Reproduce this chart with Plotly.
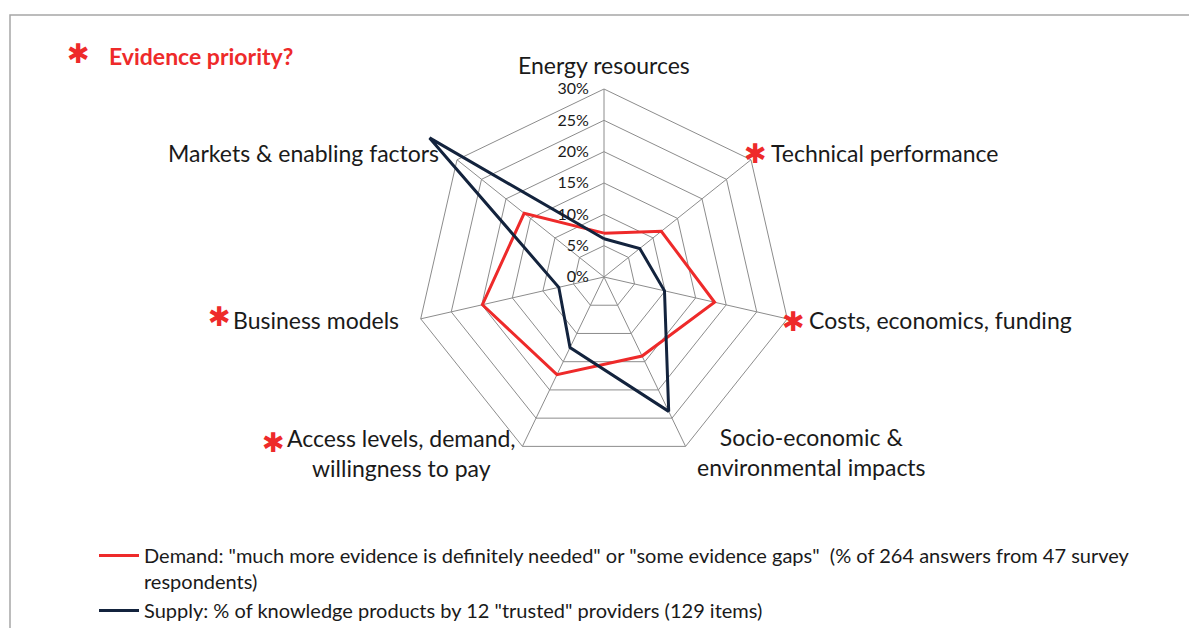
import plotly.graph_objects as go

categories = ["Energy resources", "Technical performance", "Costs, economics, funding",
              "Socio-economic & environmental impacts", "Access levels, demand, willingness to pay",
              "Business models", "Markets & enabling factors"]
demand = [7.0, 11.7, 18.1, 14.0, 17.3, 19.9, 16.3]
supply = [6.1, 7.3, 9.9, 23.8, 12.5, 7.4, 35.6]
radial_ticks = [0, 5, 10, 15, 20, 25, 30]
radial_tick_labels = ["0%", "5%", "10%", "15%", "20%", "25%", "30%"]

demand_name = 'Demand: "much more evidence is definitely needed" or "some evidence gaps"  (% of 264 answers from 47 survey<br>respondents)'
supply_name = 'Supply: % of knowledge products by 12 "trusted" providers (129 items)'

RED = "#ee2a2a"
NAVY = "#13233d"
GRID = "#8c8c8c"
TXT = "#1a1a1a"
W, H = 1189, 628
cx, cy, R30 = 604, 277, 188
RMAX = 36
R = R30 * RMAX / 30

fig = go.Figure()
# spokes from centre to the 30% ring
spoke_r, spoke_t = [], []
for c in categories:
    spoke_r += [0, radial_ticks[-1], None]
    spoke_t += [c, c, c]
fig.add_trace(go.Scatterpolar(r=spoke_r, theta=spoke_t, mode="lines", line=dict(color=GRID, width=1),
                              showlegend=False, hoverinfo="skip", connectgaps=False))
fig.add_trace(go.Scatterpolar(r=demand + demand[:1], theta=categories + categories[:1], mode="lines",
                              line=dict(color=RED, width=3), name=demand_name))
fig.add_trace(go.Scatterpolar(r=supply + supply[:1], theta=categories + categories[:1], mode="lines",
                              line=dict(color=NAVY, width=3), name=supply_name))

def px(x):
    return x / W

def py(y):
    return 1 - y / H

LF = 23
labels = [
    ("Energy resources", 604, 65, "center"),
    ("Technical performance", 769, 153, "left"),
    ("Costs, economics, funding", 807, 320, "left"),
    ("Socio-economic &<br>environmental impacts", 811, 452, "center"),
    ("Access levels, demand,<br>willingness to pay", 401, 453, "center"),
    ("Business models", 401, 320, "right"),
    ("Markets & enabling factors", 441, 153, "right"),
]
annotations = []
for text, x, y, anc in labels:
    annotations.append(dict(xref="paper", yref="paper", x=px(x), y=py(y), xanchor=anc, yanchor="middle",
                            showarrow=False, text=text, align="center",
                            font=dict(size=LF, color=TXT, family="Lato")))
stars = [(755, 153), (793, 321), (273, 442), (219, 316), (78, 53)]
for x, y in stars:
    annotations.append(dict(xref="paper", yref="paper", x=px(x), y=py(y), xanchor="center", yanchor="middle",
                            showarrow=False, text="✱", font=dict(size=27, color=RED, family="DejaVu Sans")))
annotations.append(dict(xref="paper", yref="paper", x=px(107), y=py(56), xanchor="left", yanchor="middle",
                        showarrow=False, text="<b>Evidence priority?</b>",
                        font=dict(size=23, color=RED, family="Lato")))

pad = "\u00a0" * 3
fig.update_layout(
    width=W, height=H,
    margin=dict(l=0, r=0, t=0, b=0, autoexpand=False),
    paper_bgcolor="white", plot_bgcolor="white",
    font=dict(family="Lato, 'Open Sans', sans-serif", color=TXT),
    polar=dict(
        domain=dict(x=[px(cx - R), px(cx + R)], y=[py(cy + R), py(cy - R)]),
        gridshape="linear",
        bgcolor="rgba(0,0,0,0)",
        angularaxis=dict(direction="clockwise", rotation=90, type="category",
                         categoryorder="array", categoryarray=categories,
                         showline=False, showgrid=False, showticklabels=False, ticks=""),
        radialaxis=dict(range=[0, RMAX], tickmode="array", tickvals=radial_ticks,
                        ticktext=[t + pad for t in radial_tick_labels],
                        angle=90, tickangle=90, side="counterclockwise", showline=False, ticks="",
                        gridcolor=GRID, gridwidth=1,
                        tickfont=dict(size=16, color=TXT, family="Lato")),
    ),
    legend=dict(x=px(94), y=py(536), xanchor="left", yanchor="top", valign="top",
                font=dict(size=20, color=TXT, family="Lato"), tracegroupgap=20, bgcolor="rgba(0,0,0,0)",
                itemwidth=40),
    showlegend=True,
    shapes=[dict(type="rect", xref="paper", yref="paper", x0=px(10), y0=py(15), x1=1.05, y1=-0.05,
                 line=dict(color="#a6a6a6", width=1.5), fillcolor="rgba(0,0,0,0)")],
    annotations=annotations,
)
fig.write_html("out.html", config={"displayModeBar": False},
               post_script="document.body.style.margin='0px';")
